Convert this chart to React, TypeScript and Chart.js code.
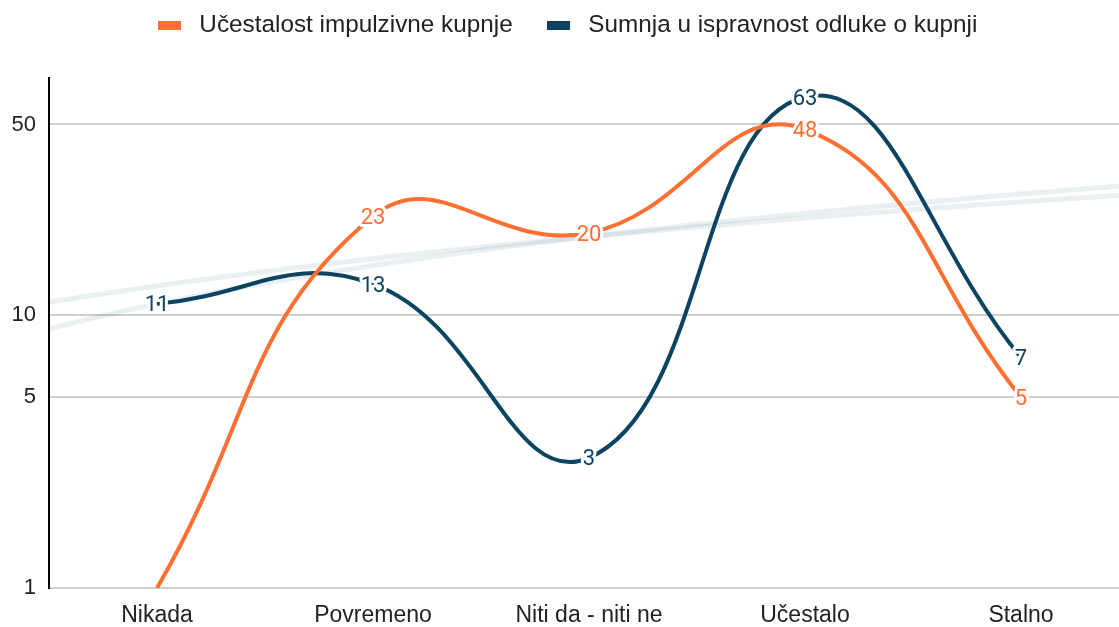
import { useEffect, useRef } from "react";
import { Chart, registerables } from "chart.js";

Chart.register(...registerables);

const categories = ["Nikada", "Povremeno", "Niti da - niti ne", "Učestalo", "Stalno"];
const impulseSeries = [1, 23, 20, 48, 5];
const doubtSeries = [11, 13, 3, 63, 7];
const seriesNames = ["Učestalost impulzivne kupnje", "Sumnja u ispravnost odluke o kupnji"];
const yTicks = [1, 5, 10, 50];

const ORANGE = "#ff6f31";
const NAVY = "#0a4461";
const FONT = "'Liberation Sans', Arial, sans-serif";

function linReg(vals: number[]) {
  const n = vals.length;
  const mx = (n - 1) / 2;
  const my = vals.reduce((s, v) => s + v, 0) / n;
  let num = 0;
  let den = 0;
  vals.forEach((v, i) => {
    num += (i - mx) * (v - my);
    den += (i - mx) * (i - mx);
  });
  const b = num / den;
  return { a: my - b * mx, b };
}

const trendPlugin = {
  id: "trendLines",
  beforeDatasetsDraw(chart: any) {
    const { ctx, chartArea, scales } = chart;
    const x = scales.x;
    const y = scales.y;
    ctx.save();
    ctx.beginPath();
    ctx.rect(chartArea.left, chartArea.top, chartArea.right - chartArea.left, chartArea.bottom - chartArea.top);
    ctx.clip();
    ctx.strokeStyle = "rgba(20,80,115,0.09)";
    ctx.lineWidth = 5;
    [impulseSeries, doubtSeries].forEach((vals) => {
      const { a, b } = linReg(vals);
      ctx.beginPath();
      const steps = 200;
      for (let i = 0; i <= steps; i++) {
        const t = -0.6 + (5.2 * i) / steps;
        const v = a + b * t;
        const px = x.getPixelForValue(t);
        const py = y.getPixelForValue(v);
        if (i === 0) ctx.moveTo(px, py);
        else ctx.lineTo(px, py);
      }
      ctx.stroke();
    });
    ctx.restore();
  },
};

const labelPlugin = {
  id: "valueLabels",
  afterDatasetsDraw(chart: any) {
    const { ctx } = chart;
    const yMin = chart.scales.y.min;
    ctx.save();
    ctx.font = "22px Roboto, 'Liberation Sans', sans-serif";
    ctx.textAlign = "center";
    ctx.textBaseline = "middle";
    ctx.lineJoin = "round";
    chart.data.datasets.forEach((ds: any, di: number) => {
      const meta = chart.getDatasetMeta(di);
      meta.data.forEach((pt: any, i: number) => {
        const v = ds.data[i];
        if (!(v > yMin)) return;
        ctx.lineWidth = 6;
        ctx.strokeStyle = "#ffffff";
        ctx.strokeText(String(v), pt.x, pt.y + 2);
        ctx.fillStyle = ds.borderColor;
        ctx.fillText(String(v), pt.x, pt.y + 2);
      });
    });
    ctx.restore();
  },
};

const legendHeightPlugin = {
  id: "legendHeight",
  afterInit(chart: any) {
    const lg = chart.legend;
    if (lg) {
      const orig = lg.fit.bind(lg);
      lg.fit = () => {
        orig();
        lg.height = 93;
      };
    }
  },
};

function makeSwatch(color: string) {
  const c = document.createElement("canvas");
  c.width = 23;
  c.height = 9;
  const g = c.getContext("2d");
  if (g) {
    g.fillStyle = color;
    g.fillRect(0, 0, 23, 9);
  }
  return c;
}

export default function App() {
  const ref = useRef<HTMLCanvasElement | null>(null);

  useEffect(() => {
    if (!ref.current) return;
    Chart.defaults.font.family = FONT;
    const swatches = [makeSwatch(ORANGE), makeSwatch(NAVY)];
    const chart = new Chart(ref.current, {
      type: "line",
      data: {
        labels: categories,
        datasets: [
          {
            label: seriesNames[0],
            data: impulseSeries,
            borderColor: ORANGE,
            backgroundColor: ORANGE,
            borderWidth: 4,
            tension: 0.45,
            pointRadius: 0,
            fill: false,
          },
          {
            label: seriesNames[1],
            data: doubtSeries,
            borderColor: NAVY,
            backgroundColor: NAVY,
            borderWidth: 4,
            tension: 0.45,
            pointRadius: 0,
            fill: false,
          },
        ],
      },
      options: {
        animation: false,
        responsive: false,
        layout: { padding: { top: -15, left: 0, right: 0, bottom: 0 } },
        plugins: {
          tooltip: { enabled: false },
          legend: {
            display: true,
            position: "top",
            labels: {
              usePointStyle: true,
              pointStyleWidth: 35.5,
              boxHeight: 9,
              padding: 28,
              color: "#222",
              font: { size: 24.3, family: FONT },
              generateLabels: (c: any) =>
                (Chart.defaults.plugins.legend.labels as any)
                  .generateLabels(c)
                  .map((it: any, i: number) => ({ ...it, lineWidth: 0, pointStyle: swatches[i] })),
            },
          },
        },
        scales: {
          x: {
            type: "category",
            offset: true,
            grid: { display: false },
            border: { display: false },
            ticks: { color: "#222", padding: 6, font: { size: 23, family: FONT }, maxRotation: 0 },
            afterFit: (s: any) => {
              s.height = 39;
            },
          },
          y: {
            type: "logarithmic",
            min: 1,
            max: 74,
            grid: { color: "#cfcfcf", lineWidth: 2, drawTicks: false },
            border: { display: true, color: "#000", width: 2 },
            ticks: {
              color: "#222",
              padding: 13,
              font: { size: 22, family: FONT },
              callback: (v: any) => String(v),
            },
            afterBuildTicks: (s: any) => {
              s.ticks = yTicks.map((v) => ({ value: v }));
            },
            afterFit: (s: any) => {
              s.width = 49;
            },
          },
        },
      },
      plugins: [trendPlugin, labelPlugin, legendHeightPlugin],
    } as any);
    return () => chart.destroy();
  }, []);

  return (
    <div
      style={{
        position: "fixed",
        left: 0,
        top: 0,
        width: 1119,
        height: 627,
        overflow: "hidden",
        background: "#fff",
      }}
    >
      <canvas ref={ref} width={1129} height={627} style={{ width: 1129, height: 627, display: "block" }} />
    </div>
  );
}
